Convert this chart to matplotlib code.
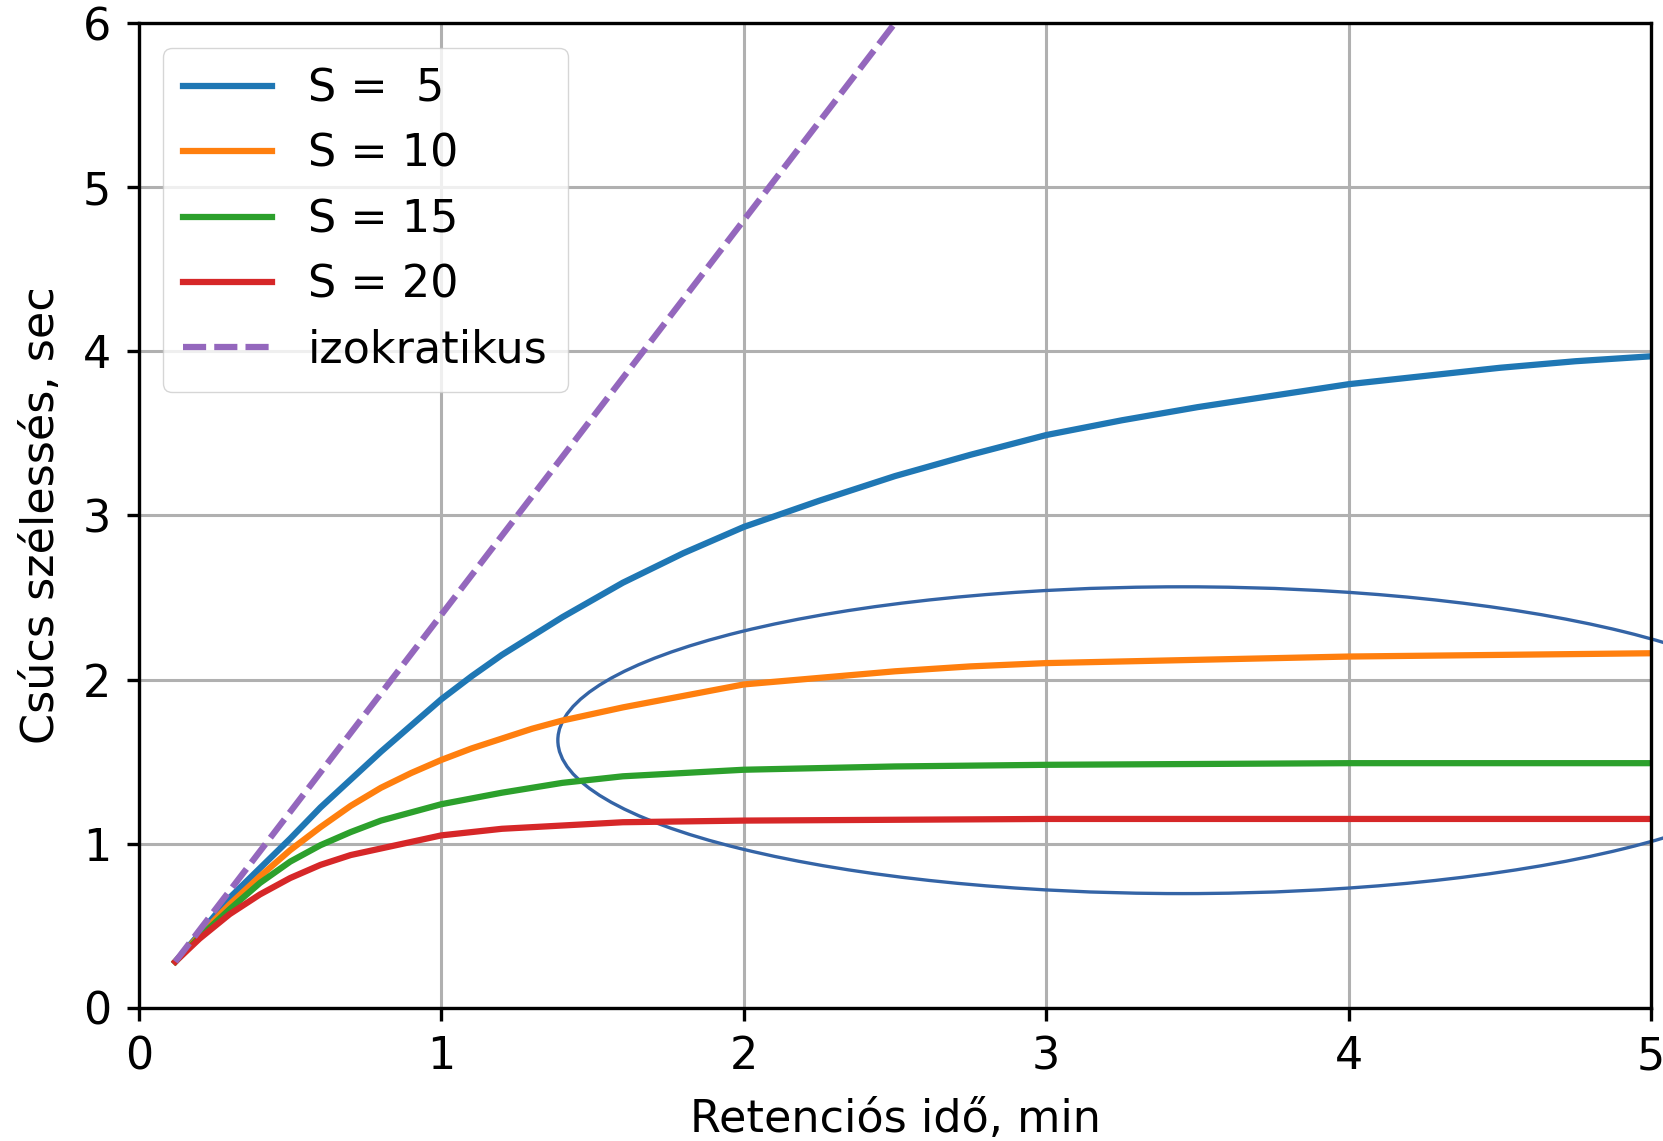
import matplotlib
matplotlib.use("Agg")
import matplotlib.pyplot as plt
from matplotlib.patches import Ellipse

# Values
x_s5 = [0.12, 0.2, 0.3, 0.4, 0.5, 0.6, 0.7, 0.8, 0.9, 1.0, 1.1, 1.2, 1.4, 1.6, 1.8, 2.0,
        2.25, 2.5, 2.75, 3.0, 3.25, 3.5, 3.75, 4.0, 4.25, 4.5, 4.75, 5.0]
y_s5 = [0.28, 0.45, 0.67, 0.85, 1.03, 1.22, 1.39, 1.56, 1.72, 1.88, 2.02, 2.15, 2.38, 2.59, 2.77, 2.93,
        3.09, 3.24, 3.37, 3.49, 3.58, 3.66, 3.73, 3.80, 3.85, 3.90, 3.94, 3.97]

x_s10 = [0.12, 0.2, 0.3, 0.4, 0.5, 0.6, 0.7, 0.8, 0.9, 1.0, 1.1, 1.2, 1.3, 1.4, 1.6, 1.8, 2.0,
         2.25, 2.5, 2.75, 3.0, 3.5, 4.0, 4.5, 5.0]
y_s10 = [0.28, 0.44, 0.63, 0.80, 0.96, 1.10, 1.23, 1.34, 1.43, 1.51, 1.58, 1.64, 1.70, 1.75, 1.83, 1.90, 1.97,
         2.01, 2.05, 2.08, 2.10, 2.12, 2.14, 2.15, 2.16]

x_s15 = [0.12, 0.2, 0.3, 0.4, 0.5, 0.6, 0.7, 0.8, 0.9, 1.0, 1.2, 1.4, 1.6, 1.8, 2.0,
         2.5, 3.0, 4.0, 5.0]
y_s15 = [0.28, 0.43, 0.60, 0.76, 0.89, 0.99, 1.07, 1.14, 1.19, 1.24, 1.31, 1.37, 1.41, 1.43, 1.45,
         1.47, 1.48, 1.49, 1.49]

x_s20 = [0.12, 0.2, 0.3, 0.4, 0.5, 0.6, 0.7, 0.8, 0.9, 1.0, 1.2, 1.4, 1.6, 2.0, 3.0, 5.0]
y_s20 = [0.28, 0.42, 0.57, 0.69, 0.79, 0.87, 0.93, 0.97, 1.01, 1.05, 1.09, 1.11, 1.13, 1.14, 1.15, 1.15]

x_iso = [0.12, 2.52]
y_iso = [0.28, 6.05]

labels = ["S =  5", "S = 10", "S = 15", "S = 20", "izokratikus"]

plt.rcParams['font.family'] = ['DejaVu Sans']
plt.rcParams['font.size'] = 32

fig = plt.figure(figsize=(16.63, 11.41), dpi=100)
ax = fig.add_axes([0.0836, 0.1169, 0.9092, 0.8627])

lw = 4.5
ax.plot(x_s5, y_s5, color='#1f77b4', lw=lw, label=labels[0])
ax.plot(x_s10, y_s10, color='#ff7f0e', lw=lw, label=labels[1])
ax.plot(x_s15, y_s15, color='#2ca02c', lw=lw, label=labels[2])
ax.plot(x_s20, y_s20, color='#d62728', lw=lw, label=labels[3])
ax.plot(x_iso, y_iso, color='#9467bd', lw=lw, ls='--', dashes=(3.7, 1.3), label=labels[4])

# hand drawn highlight around the flat part
ell = Ellipse((3.45, 1.63), 4.13, 1.87, fill=False, edgecolor='#3464a6', lw=2.4, clip_on=False)
ax.add_patch(ell)

ax.set_xlim(0, 5)
ax.set_ylim(0, 6)
ax.set_xticks([0, 1, 2, 3, 4, 5])
ax.set_yticks([0, 1, 2, 3, 4, 5, 6])
ax.grid(True, color='#b0b0b0', lw=2.2)
ax.set_axisbelow(True)
for sp in ax.spines.values():
    sp.set_linewidth(2.4)
ax.tick_params(width=2.4, length=9, pad=11)

ax.set_xlabel("Retenciós idő, min", labelpad=14)
ax.set_ylabel("Csúcs szélessés, sec", labelpad=14)

ax.legend(loc='upper left', fancybox=True, framealpha=0.8, borderpad=0.45,
          borderaxespad=0.55)

fig.savefig("out.png", dpi=100)
